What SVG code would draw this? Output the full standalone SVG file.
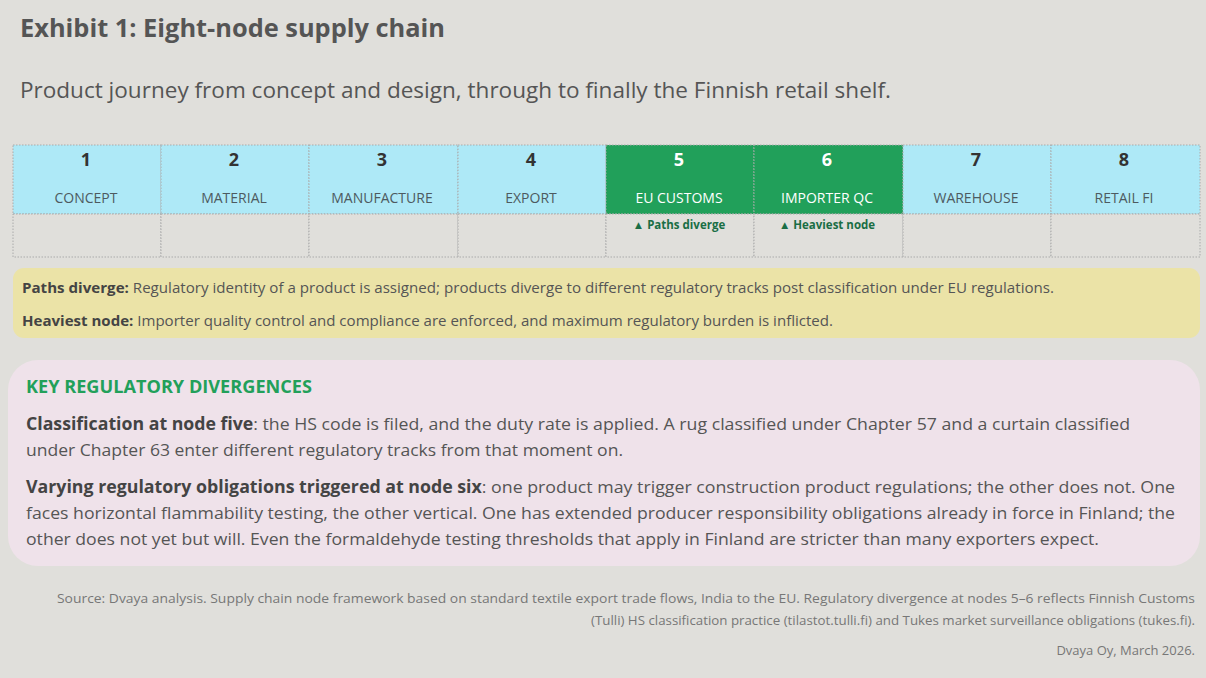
<svg xmlns="http://www.w3.org/2000/svg" width="1206" height="678" viewBox="0 0 1206 678">
<style>
text{font-family:"Open Sans","Noto Sans","Liberation Sans",sans-serif;}
.title{font-size:25px;font-weight:700;fill:#555;}
.sub{font-size:21px;fill:#555;}
.cellb{fill:#aee9f7;stroke:#aaa;stroke-width:1;stroke-dasharray:1.5 1.5;}
.cellg{fill:#21a05a;stroke:#aaa;stroke-width:1;stroke-dasharray:1.5 1.5;}
.cell{fill:#e0dfdb;stroke:#aaa;stroke-width:1;stroke-dasharray:1.5 1.5;}
.num{font-size:18px;font-weight:700;fill:#333;text-anchor:middle;}
.lbl{font-size:14px;fill:#4d5a60;text-anchor:middle;}
.numw{font-size:18px;font-weight:700;fill:#fff;text-anchor:middle;}
.lblw{font-size:14px;fill:#fff;text-anchor:middle;}
.note{font-size:11.5px;font-weight:700;fill:#1a6e45;text-anchor:middle;}
.yt{font-size:14.5px;fill:#555;}
.pt{font-size:17px;fill:#555;}
.b{font-weight:700;fill:#444;}
.src{font-size:13px;fill:#777;text-anchor:end;}
</style>
<rect x="0" y="0" width="1206" height="678" fill="#e0dfdb"/>
<text class="title" x="20" y="37" textLength="425" lengthAdjust="spacingAndGlyphs">Exhibit 1: Eight-node supply chain</text>
<text class="sub" x="20" y="98" textLength="871" lengthAdjust="spacingAndGlyphs">Product journey from concept and design, through to finally the Finnish retail shelf.</text>

<g id="node1"><rect class="cellb" x="13" y="145" width="148" height="69"/><rect class="cell" x="13" y="214" width="148" height="43"/><text class="num" x="86" y="166">1</text><text class="lbl" x="86" y="203">CONCEPT</text></g>
<g id="node2"><rect class="cellb" x="161" y="145" width="148" height="69"/><rect class="cell" x="161" y="214" width="148" height="43"/><text class="num" x="234" y="166">2</text><text class="lbl" x="234" y="203">MATERIAL</text></g>
<g id="node3"><rect class="cellb" x="309" y="145" width="149" height="69"/><rect class="cell" x="309" y="214" width="149" height="43"/><text class="num" x="382" y="166">3</text><text class="lbl" x="382" y="203">MANUFACTURE</text></g>
<g id="node4"><rect class="cellb" x="458" y="145" width="148" height="69"/><rect class="cell" x="458" y="214" width="148" height="43"/><text class="num" x="531" y="166">4</text><text class="lbl" x="531" y="203">EXPORT</text></g>
<g id="node5"><rect class="cellg" x="606" y="145" width="148" height="69"/><rect class="cell" x="606" y="214" width="148" height="43"/><text class="numw" x="679" y="166">5</text><text class="lblw" x="679" y="203">EU CUSTOMS</text><text class="note" x="679" y="229">▲ Paths diverge</text></g>
<g id="node6"><rect class="cellg" x="754" y="145" width="149" height="69"/><rect class="cell" x="754" y="214" width="149" height="43"/><text class="numw" x="827" y="166">6</text><text class="lblw" x="827" y="203">IMPORTER QC</text><text class="note" x="827" y="229">▲ Heaviest node</text></g>
<g id="node7"><rect class="cellb" x="903" y="145" width="148" height="69"/><rect class="cell" x="903" y="214" width="148" height="43"/><text class="num" x="976" y="166">7</text><text class="lbl" x="976" y="203">WAREHOUSE</text></g>
<g id="node8"><rect class="cellb" x="1051" y="145" width="149" height="69"/><rect class="cell" x="1051" y="214" width="149" height="43"/><text class="num" x="1124" y="166">8</text><text class="lbl" x="1124" y="203">RETAIL FI</text></g>
<g id="connectors"></g>

<g id="legend">
<rect x="13" y="268" width="1187" height="70" rx="11" fill="#ebe3a7"/>
<text class="yt" x="22" y="293" textLength="1032" lengthAdjust="spacingAndGlyphs"><tspan class="b">Paths diverge:</tspan> Regulatory identity of a product is assigned; products diverge to different regulatory tracks post classification under EU regulations.</text>
<text class="yt" x="22" y="326" textLength="811" lengthAdjust="spacingAndGlyphs"><tspan class="b">Heaviest node:</tspan> Importer quality control and compliance are enforced, and maximum regulatory burden is inflicted.</text>
</g>

<g id="key">
<rect x="8" y="360" width="1192" height="206" rx="30" fill="#efe2ea"/>
<text x="26" y="393" style="font-size:17px;font-weight:700;fill:#22a05a" textLength="286" lengthAdjust="spacingAndGlyphs">KEY REGULATORY DIVERGENCES</text>
<text class="pt" x="26" y="430" textLength="1104" lengthAdjust="spacingAndGlyphs"><tspan class="b">Classification at node five</tspan>: the HS code is filed, and the duty rate is applied. A rug classified under Chapter 57 and a curtain classified</text>
<text class="pt" x="26" y="456" textLength="597" lengthAdjust="spacingAndGlyphs">under Chapter 63 enter different regulatory tracks from that moment on.</text>
<text class="pt" x="26" y="493" textLength="1149" lengthAdjust="spacingAndGlyphs"><tspan class="b">Varying regulatory obligations triggered at node six</tspan>: one product may trigger construction product regulations; the other does not. One</text>
<text class="pt" x="26" y="519" textLength="1149" lengthAdjust="spacingAndGlyphs">faces horizontal flammability testing, the other vertical. One has extended producer responsibility obligations already in force in Finland; the</text>
<text class="pt" x="26" y="545" textLength="1073" lengthAdjust="spacingAndGlyphs">other does not yet but will. Even the formaldehyde testing thresholds that apply in Finland are stricter than many exporters expect.</text>
</g>

<g id="source">
<text class="src" x="1195" y="603" textLength="1138" lengthAdjust="spacingAndGlyphs">Source: Dvaya analysis. Supply chain node framework based on standard textile export trade flows, India to the EU. Regulatory divergence at nodes 5–6 reflects Finnish Customs</text>
<text class="src" x="1195" y="625" textLength="604" lengthAdjust="spacingAndGlyphs">(Tulli) HS classification practice (tilastot.tulli.fi) and Tukes market surveillance obligations (tukes.fi).</text>
<text class="src" x="1195" y="655">Dvaya Oy, March 2026.</text>
</g>
</svg>
